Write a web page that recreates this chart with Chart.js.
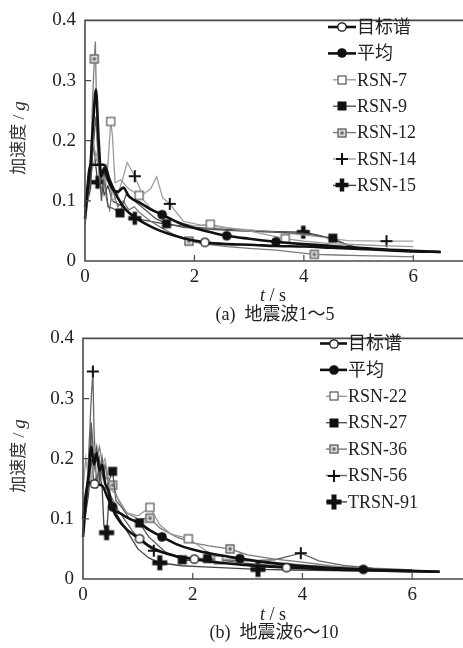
<!DOCTYPE html>
<html><head><meta charset="utf-8">
<script src="https://cdn.jsdelivr.net/npm/chart.js@4.4.1/dist/chart.umd.min.js"></script>
<style>
html,body{margin:0;padding:0;background:#fff;overflow:hidden;width:463px;height:648px;}
#c1{position:absolute;left:0;top:0;}
#c2{position:absolute;left:-2px;top:318px;}
</style></head><body>
<canvas id="c1" width="468" height="330"></canvas>
<canvas id="c2" width="469" height="330"></canvas>
<script>
// ---------- axis ticks ----------
const xTicks = [0, 2, 4, 6];
const xTickLabels = ['0', '2', '4', '6'];
const yTicks = [0, 0.1, 0.2, 0.3, 0.4];
const yTickLabels = ['0', '0.1', '0.2', '0.3', '0.4'];

// ---------- chart (a) ----------
const labelsA = ['目标谱', '平均', 'RSN-7', 'RSN-9', 'RSN-12', 'RSN-14', 'RSN-15'];
const a_target = [[0,0.07],[0.1,0.16],[0.2,0.16],[0.35,0.16],[0.45,0.135],[0.6,0.105],[0.75,0.085],[0.91,0.073],[1.1,0.062],[1.3,0.053],[1.5,0.046],[1.8,0.038],[2.19,0.031],[2.6,0.028],[3.0,0.027],[3.5,0.025],[4.0,0.024],[4.5,0.022],[5.0,0.02],[5.5,0.018],[6.0,0.016],[6.5,0.015]];
const a_mean = [[0,0.09],[0.05,0.12],[0.1,0.16],[0.15,0.23],[0.2,0.285],[0.25,0.2],[0.3,0.14],[0.35,0.155],[0.4,0.14],[0.5,0.12],[0.6,0.115],[0.7,0.122],[0.8,0.108],[1.0,0.097],[1.2,0.086],[1.41,0.077],[1.7,0.064],[1.92,0.057],[2.2,0.05],[2.59,0.042],[3.0,0.037],[3.49,0.032],[4.0,0.028],[4.5,0.025],[5.0,0.022],[5.5,0.019],[6.0,0.017],[6.5,0.015]];
const a_rsn7 = [[0,0.1],[0.05,0.13],[0.1,0.16],[0.15,0.2],[0.2,0.17],[0.3,0.15],[0.38,0.13],[0.42,0.16],[0.47,0.232],[0.5,0.21],[0.55,0.13],[0.65,0.135],[0.8,0.12],[0.99,0.109],[1.2,0.088],[1.5,0.072],[1.8,0.062],[2.0,0.058],[2.29,0.061],[2.6,0.055],[3.0,0.05],[3.4,0.042],[3.66,0.037],[4.0,0.033],[4.5,0.029],[5.0,0.027],[5.5,0.025],[6.0,0.024]];
const a_rsn9 = [[0,0.09],[0.05,0.11],[0.1,0.13],[0.15,0.19],[0.2,0.24],[0.25,0.17],[0.3,0.1],[0.35,0.15],[0.42,0.09],[0.5,0.088],[0.64,0.08],[0.75,0.11],[0.9,0.1],[1.1,0.085],[1.3,0.07],[1.49,0.062],[1.8,0.056],[2.2,0.053],[2.8,0.05],[3.4,0.048],[4.0,0.046],[4.53,0.038],[4.8,0.026],[5.0,0.021],[5.5,0.019],[6.0,0.017]];
const a_rsn12 = [[0,0.06],[0.05,0.1],[0.1,0.16],[0.14,0.27],[0.17,0.336],[0.19,0.365],[0.22,0.2],[0.26,0.14],[0.3,0.12],[0.35,0.13],[0.4,0.1],[0.45,0.085],[0.5,0.12],[0.6,0.09],[0.7,0.1],[0.8,0.085],[0.9,0.09],[1.0,0.08],[1.2,0.066],[1.4,0.055],[1.6,0.045],[1.9,0.033],[2.2,0.028],[2.6,0.024],[3.0,0.021],[3.5,0.018],[3.9,0.014],[4.19,0.011],[4.6,0.01],[5.0,0.009],[5.5,0.008],[6.0,0.007]];
const a_rsn14 = [[0,0.1],[0.05,0.12],[0.1,0.14],[0.2,0.18],[0.3,0.14],[0.4,0.16],[0.5,0.1],[0.6,0.11],[0.7,0.14],[0.77,0.164],[0.91,0.141],[1.05,0.11],[1.2,0.12],[1.31,0.14],[1.42,0.105],[1.55,0.095],[1.8,0.066],[2.1,0.06],[2.6,0.055],[3.2,0.05],[3.8,0.045],[4.3,0.04],[4.8,0.034],[5.51,0.033],[6.0,0.033]];
const a_rsn15 = [[0,0.08],[0.05,0.1],[0.1,0.12],[0.15,0.2],[0.23,0.131],[0.3,0.14],[0.35,0.11],[0.42,0.125],[0.5,0.1],[0.6,0.095],[0.7,0.09],[0.91,0.071],[1.2,0.066],[1.5,0.061],[2.0,0.056],[2.5,0.053],[3.0,0.051],[3.5,0.049],[3.99,0.048],[4.3,0.042],[4.7,0.03],[5.0,0.022],[5.5,0.019],[6.0,0.016]];
const a_marks = [[2.19],[1.41,2.59,3.49],[0.47,0.99,2.29,3.66],[0.64,1.49,4.53],[0.17,1.9,4.19],[0.91,1.55,5.51],[0.23,0.91,3.99]];

// ---------- chart (b) ----------
const labelsB = ['目标谱', '平均', 'RSN-22', 'RSN-27', 'RSN-36', 'RSN-56', 'TRSN-91'];
const b_target = [[0,0.07],[0.1,0.16],[0.21,0.158],[0.35,0.155],[0.45,0.135],[0.6,0.105],[0.8,0.082],[1.03,0.067],[1.2,0.055],[1.4,0.046],[1.7,0.038],[2.03,0.033],[2.5,0.027],[3.0,0.023],[3.71,0.019],[4.5,0.016],[5.5,0.014],[6.5,0.012]];
const b_mean = [[0,0.1],[0.05,0.14],[0.1,0.17],[0.15,0.22],[0.2,0.19],[0.25,0.21],[0.3,0.18],[0.35,0.19],[0.4,0.16],[0.45,0.15],[0.54,0.12],[0.7,0.108],[0.85,0.1],[1.03,0.093],[1.2,0.082],[1.44,0.07],[1.7,0.058],[2.0,0.049],[2.4,0.041],[2.86,0.034],[3.3,0.028],[3.8,0.023],[4.4,0.019],[5.11,0.016],[5.8,0.014],[6.5,0.012]];
const b_rsn22 = [[0,0.15],[0.05,0.2],[0.1,0.17],[0.15,0.16],[0.2,0.22],[0.3,0.18],[0.4,0.2],[0.5,0.15],[0.6,0.14],[0.8,0.11],[1.0,0.105],[1.22,0.119],[1.4,0.09],[1.6,0.075],[1.92,0.067],[2.2,0.05],[2.47,0.032],[2.8,0.034],[3.2,0.03],[3.7,0.026],[4.2,0.022],[5.0,0.018],[6.0,0.014]];
const b_rsn27 = [[0,0.1],[0.05,0.12],[0.1,0.15],[0.15,0.26],[0.2,0.2],[0.25,0.22],[0.3,0.16],[0.35,0.2],[0.42,0.15],[0.54,0.179],[0.6,0.13],[0.7,0.12],[0.85,0.1],[1.03,0.093],[1.2,0.07],[1.5,0.045],[1.81,0.032],[2.0,0.03],[2.27,0.034],[2.6,0.03],[3.0,0.026],[3.5,0.022],[4.0,0.02],[4.5,0.018],[5.0,0.016],[6.0,0.013]];
const b_rsn36 = [[0,0.12],[0.05,0.14],[0.1,0.17],[0.15,0.24],[0.2,0.18],[0.3,0.22],[0.4,0.17],[0.54,0.156],[0.65,0.13],[0.8,0.11],[1.0,0.1],[1.22,0.101],[1.4,0.085],[1.7,0.07],[2.0,0.06],[2.3,0.055],[2.68,0.05],[3.0,0.04],[3.5,0.033],[4.0,0.028],[4.5,0.022],[5.0,0.018],[6.0,0.014]];
const b_rsn56 = [[0,0.08],[0.05,0.12],[0.1,0.2],[0.15,0.3],[0.18,0.345],[0.2,0.25],[0.25,0.15],[0.3,0.2],[0.35,0.17],[0.4,0.19],[0.5,0.14],[0.6,0.12],[0.75,0.1],[0.9,0.08],[1.1,0.06],[1.29,0.047],[1.6,0.04],[2.0,0.035],[2.5,0.032],[3.0,0.03],[3.5,0.032],[3.97,0.043],[4.3,0.03],[4.8,0.022],[5.3,0.018],[6.0,0.015]];
const b_trsn91 = [[0,0.09],[0.05,0.11],[0.1,0.14],[0.15,0.2],[0.2,0.16],[0.3,0.18],[0.35,0.15],[0.38,0.09],[0.43,0.077],[0.48,0.14],[0.6,0.11],[0.8,0.08],[1.0,0.05],[1.2,0.035],[1.4,0.027],[1.8,0.022],[2.2,0.02],[2.7,0.018],[3.19,0.016],[3.8,0.015],[4.5,0.014],[5.2,0.013],[6.0,0.012]];
const b_marks = [[0.21,1.03,2.03,3.71],[0.54,1.44,2.86,5.11],[1.22,1.92,2.47],[0.54,1.03,1.81,2.27],[0.54,1.22,2.68],[0.18,1.29,3.97],[0.43,1.4,3.19]];

// ---------- marker images ----------
function mk(size, draw) {
  const c = document.createElement('canvas');
  c.width = size; c.height = size;
  const g = c.getContext('2d');
  draw(g, size / 2);
  return c;
}
const M = {
  openCircle: mk(12, (g, m) => { g.beginPath(); g.arc(m, m, 4.2, 0, 2 * Math.PI); g.fillStyle = '#fff'; g.fill(); g.lineWidth = 1.3; g.strokeStyle = '#111'; g.stroke(); }),
  filledCircle: mk(12, (g, m) => { g.beginPath(); g.arc(m, m, 4.8, 0, 2 * Math.PI); g.fillStyle = '#111'; g.fill(); }),
  openSquare: mk(12, (g) => { g.fillStyle = '#fff'; g.fillRect(1.5, 1.5, 9, 9); g.lineWidth = 1.2; g.strokeStyle = '#555'; g.strokeRect(2, 2, 8, 8); }),
  filledSquare: mk(12, (g) => { g.fillStyle = '#111'; g.fillRect(1.5, 1.5, 9, 9); }),
  dotSquare: mk(12, (g) => { g.fillStyle = '#d8d8d8'; g.fillRect(1.5, 1.5, 9, 9); g.lineWidth = 1.2; g.strokeStyle = '#555'; g.strokeRect(2, 2, 8, 8); g.fillStyle = '#666'; g.fillRect(4.5, 4.5, 3, 3); }),
  thinPlus: mk(14, (g) => { g.strokeStyle = '#111'; g.lineWidth = 2; g.beginPath(); g.moveTo(1, 7); g.lineTo(13, 7); g.moveTo(7, 1); g.lineTo(7, 13); g.stroke(); }),
  thickPlus: mk(16, (g) => { g.strokeStyle = '#111'; g.lineWidth = 4.5; g.beginPath(); g.moveTo(1.5, 8); g.lineTo(14.5, 8); g.moveTo(8, 1.5); g.lineTo(8, 14.5); g.stroke(); }),
  thickPlusB: mk(18, (g) => { g.strokeStyle = '#111'; g.lineWidth = 5; g.beginPath(); g.moveTo(1.5, 9); g.lineTo(16.5, 9); g.moveTo(9, 1.5); g.lineTo(9, 16.5); g.stroke(); })
};

function ds(label, pts, marks, color, width, style, smooth) {
  return {
    label: label,
    data: pts.map(p => ({ x: p[0], y: p[1] })),
    showLine: true,
    fill: false,
    borderColor: color,
    backgroundColor: color,
    borderWidth: width,
    pointStyle: style,
    pointRadius: (c) => (marks.includes(pts[c.dataIndex] ? pts[c.dataIndex][0] : -1) ? 5 : 0),
    pointHoverRadius: 0,
    tension: smooth ? 0.4 : 0,
    cubicInterpolationMode: smooth ? 'monotone' : 'default',
    clip: 6,
    legendThick: smooth
  };
}

const SERIF = '"Liberation Serif", "Noto Sans CJK SC", serif';

function drawParts(ctx, parts, cx, cy) {
  let total = 0;
  parts.forEach(p => { ctx.font = p.f; p.w = ctx.measureText(p.t).width; total += p.w; });
  let x = cx - total / 2;
  ctx.textAlign = 'left';
  ctx.textBaseline = 'middle';
  parts.forEach(p => { ctx.font = p.f; ctx.fillText(p.t, x, cy); x += p.w; });
}

function makePlugin(cfg) {
  return {
    id: 'frame' + cfg.name,
    afterDatasetsDraw(chart) {
      const ctx = chart.ctx;
      const a = chart.chartArea;
      const xs = chart.scales.x, ys = chart.scales.y;
      ctx.save();
      ctx.strokeStyle = '#4a4a4a';
      ctx.lineWidth = 1.6;
      ctx.beginPath();
      ctx.moveTo(a.right + 2, a.top); ctx.lineTo(a.left, a.top);
      ctx.lineTo(a.left, a.bottom); ctx.lineTo(a.right + 2, a.bottom);
      ctx.stroke();
      ctx.lineWidth = 1.2;
      ctx.beginPath();
      yTicks.forEach(v => { if (v > 0 && v < 0.4) { const py = ys.getPixelForValue(v); ctx.moveTo(a.left, py); ctx.lineTo(a.left + 6, py); } });
      xTicks.forEach(v => { if (v > 0) { const px = xs.getPixelForValue(v); ctx.moveTo(px, a.bottom); ctx.lineTo(px, a.bottom - 6); } });
      ctx.stroke();

      // legend
      chart.data.datasets.forEach((d, i) => {
        const y = cfg.ly0 + i * cfg.lstep;
        ctx.strokeStyle = d.borderColor;
        ctx.lineWidth = d.legendThick ? 2.6 : 1.4;
        ctx.beginPath();
        ctx.moveTo(d.legendThick ? cfg.lx0Thick : cfg.lx0, y);
        ctx.lineTo(cfg.lx1, y);
        ctx.stroke();
        const img = d.pointStyle;
        ctx.drawImage(img, Math.round(cfg.mx - img.width / 2), Math.round(y - img.height / 2));
        ctx.fillStyle = '#222';
        ctx.font = '18px ' + SERIF;
        ctx.textAlign = 'left';
        ctx.textBaseline = 'middle';
        ctx.fillText(d.label, cfg.tx, y + 1);
      });

      // y title (rotated)
      ctx.fillStyle = '#333';
      ctx.save();
      ctx.translate(cfg.ytx, cfg.yty);
      ctx.rotate(-Math.PI / 2);
      drawParts(ctx, [{ t: '加速度 / ', f: '17px ' + SERIF }, { t: 'g', f: 'italic 19px ' + SERIF }], 0, 0);
      ctx.restore();

      // x title and caption
      ctx.fillStyle = '#222';
      drawParts(ctx, [{ t: 't', f: 'italic 18px ' + SERIF }, { t: ' / s', f: '18px ' + SERIF }], cfg.xtx, cfg.xty);
      drawParts(ctx, [{ t: cfg.caption, f: '18px ' + SERIF }], cfg.cx, cfg.cy);
      ctx.restore();
    }
  };
}

function makeChart(id, H, datasets, cfg) {
  return new Chart(document.getElementById(id), {
    type: 'scatter',
    data: { datasets: datasets },
    options: {
      responsive: false,
      animation: false,
      events: [],
      layout: { padding: { top: 15, left: 0, right: 0, bottom: 0 } },
      plugins: { legend: { display: false }, tooltip: { enabled: false } },
      scales: {
        x: {
          type: 'linear', min: 0, max: 7,
          afterBuildTicks: s => { s.ticks = xTicks.map(v => ({ value: v })); },
          afterFit: s => { s.height = H - 261; },
          grid: { display: false, drawTicks: false },
          border: { display: false },
          ticks: { padding: 5, color: '#222', autoSkip: false, maxRotation: 0,
            font: { family: SERIF, size: 19 },
            callback: (v, i) => xTickLabels[i] }
        },
        y: {
          type: 'linear', min: 0, max: 0.4,
          afterBuildTicks: s => { s.ticks = yTicks.map(v => ({ value: v })); },
          afterFit: s => { s.width = 85; },
          grid: { display: false, drawTicks: false },
          border: { display: false },
          ticks: { padding: 9, color: '#222', autoSkip: false,
            font: { family: SERIF, size: 19 },
            callback: (v, i) => yTickLabels[i] }
        }
      }
    },
    plugins: [makePlugin(cfg)]
  });
}

const colA = ['#111', '#111', '#9a9a9a', '#555555', '#7a7a7a', '#a0a0a0', '#444444'];
const stA = [M.openCircle, M.filledCircle, M.openSquare, M.filledSquare, M.dotSquare, M.thinPlus, M.thickPlus];
const serA = [a_target, a_mean, a_rsn7, a_rsn9, a_rsn12, a_rsn14, a_rsn15];
const dsA = serA.map((s, i) => ds(labelsA[i], s, a_marks[i], colA[i], i < 2 ? 2.6 : 1.3, stA[i], i < 2));

const colB = ['#111', '#111', '#9a9a9a', '#555555', '#7a7a7a', '#666666', '#444444'];
const stB = [M.openCircle, M.filledCircle, M.openSquare, M.filledSquare, M.dotSquare, M.thinPlus, M.thickPlusB];
const serB = [b_target, b_mean, b_rsn22, b_rsn27, b_rsn36, b_rsn56, b_trsn91];
const dsB = serB.map((s, i) => ds(labelsB[i], s, b_marks[i], colB[i], i < 2 ? 2.6 : 1.3, stB[i], i < 2));

makeChart('c1', 330, dsA, { name: 'A', ly0: 27, lstep: 26.4, lx0Thick: 328, lx0: 333, lx1: 356, mx: 342, tx: 357,
  ytx: 20, yty: 138, xtx: 273, xty: 296, cx: 275, cy: 315, caption: '(a)  地震波1～5' });
makeChart('c2', 330, dsB, { name: 'B', ly0: 25.5, lstep: 26.4, lx0Thick: 322, lx0: 328, lx1: 349, mx: 336, tx: 350,
  ytx: 22, yty: 138, xtx: 275, xty: 297, cx: 276, cy: 315, caption: '(b)  地震波6～10' });
</script>
</body></html>
